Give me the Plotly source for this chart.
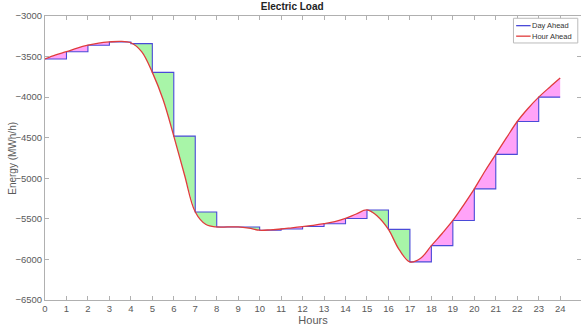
import plotly.graph_objects as go

# ---- data ----
hours = [0, 1, 2, 3, 4, 5, 6, 7, 8, 9, 10, 11, 12, 13, 14, 15, 16, 17, 18, 19, 20, 21, 22, 23, 24]
# Day-ahead hourly energy (value held over [h, h+1])
day_ahead = [-3530, -3440, -3360, -3320, -3340, -3695, -4480, -5415, -5600, -5600,
             -5640, -5625, -5595, -5560, -5495, -5390, -5630, -6030, -5830, -5520,
             -5130, -4705, -4300, -4000]
# Hour-ahead energy at half-hour resolution
ha_time = [0, 0.5, 1, 1.5, 2, 2.5, 3, 3.5, 4, 4.5, 5, 5.5, 6, 6.5, 7, 7.5, 8, 8.5,
           9, 9.5, 10, 10.5, 11, 11.5, 12, 12.5, 13, 13.5, 14, 14.5, 15, 15.5, 16,
           16.5, 17, 17.5, 18, 18.5, 19, 19.5, 20, 20.5, 21, 21.5, 22, 22.5, 23,
           23.5, 24]
hour_ahead = [-3530, -3480, -3440, -3395, -3360, -3335, -3320, -3312, -3330, -3440,
              -3695, -4030, -4480, -4960, -5415, -5570, -5600, -5600, -5600, -5615,
              -5640, -5635, -5625, -5610, -5595, -5580, -5560, -5535, -5495, -5440,
              -5390, -5470, -5630, -5880, -6030, -5985, -5830, -5680, -5520, -5330,
              -5130, -4910, -4705, -4500, -4300, -4140, -4000, -3880, -3765]
y_ticks = [-3000, -3500, -4000, -4500, -5000, -5500, -6000, -6500]

GREEN = "#a8f5a8"
MAGENTA = "#ffa3f8"
BLUE = "#4a4ad8"
RED = "#e03c3c"
AXIS = "#b0b0b0"
TEXT = "#5a5a5a"

fig = go.Figure()

# shaded differences, interval by interval
for h in range(24):
    seg_t = ha_time[2 * h:2 * h + 3]
    seg_v = hour_ahead[2 * h:2 * h + 3]
    fig.add_trace(go.Scatter(x=seg_t, y=seg_v, mode="lines",
                             line=dict(width=0, shape="spline"),
                             hoverinfo="skip", showlegend=False))
    color = GREEN if day_ahead[h] > seg_v[-1] else MAGENTA
    fig.add_trace(go.Scatter(x=[hours[h], hours[h + 1], hours[h + 1]],
                             y=[day_ahead[h], day_ahead[h], seg_v[-1]],
                             mode="lines", line=dict(width=0),
                             fill="tonexty", fillcolor=color,
                             hoverinfo="skip", showlegend=False))

# Day ahead step line
fig.add_trace(go.Scatter(x=hours, y=day_ahead + [day_ahead[-1]], mode="lines",
                         line=dict(color=BLUE, width=1.1, shape="hv"),
                         name="Day Ahead", showlegend=False))
# Hour ahead smooth line
fig.add_trace(go.Scatter(x=ha_time, y=hour_ahead, mode="lines",
                         line=dict(color=RED, width=1.3, shape="spline"),
                         name="Hour Ahead", showlegend=False))

# manual legend (MATLAB-style compact box)
fig.add_shape(type="rect", xref="paper", yref="paper", x0=0.874, x1=0.994,
              y0=0.905, y1=0.992, line=dict(color="#bbbbbb", width=1),
              fillcolor="white", layer="above")
fig.add_shape(type="line", xref="paper", yref="paper", x0=0.879, x1=0.906,
              y0=0.966, y1=0.966, line=dict(color=BLUE, width=1.3), layer="above")
fig.add_shape(type="line", xref="paper", yref="paper", x0=0.879, x1=0.906,
              y0=0.929, y1=0.929, line=dict(color=RED, width=1.3), layer="above")
fig.add_annotation(text="Day Ahead", xref="paper", yref="paper", x=0.905, y=0.966,
                   xanchor="left", yanchor="middle", showarrow=False,
                   font=dict(size=7.5, color="#333333"))
fig.add_annotation(text="Hour Ahead", xref="paper", yref="paper", x=0.905, y=0.929,
                   xanchor="left", yanchor="middle", showarrow=False,
                   font=dict(size=7.5, color="#333333"))
# y-axis title placed close to the tick labels, as in the reference
fig.add_annotation(text="Energy (MWh/h)", xref="paper", yref="paper", x=-0.062, y=0.5,
                   xanchor="center", yanchor="middle", textangle=-90, showarrow=False,
                   font=dict(size=10, color=TEXT))

axis_common = dict(showline=True, linecolor=AXIS, linewidth=1, mirror="ticks",
                   ticks="inside", ticklen=4, tickcolor=AXIS, showgrid=False,
                   zeroline=False, automargin=False,
                   tickfont=dict(size=9.5, color=TEXT))

fig.update_layout(
    width=581, height=331,
    margin=dict(l=45, r=0, t=16, b=31),
    paper_bgcolor="white", plot_bgcolor="white",
    font=dict(family="Liberation Sans, Arial, sans-serif", color=TEXT),
    title=dict(text="<b>Electric Load</b>", x=0.503, xref="container",
               y=0.979, yref="container", xanchor="center", yanchor="middle",
               font=dict(size=10, color="#222222")),
    xaxis=dict(range=[0, 24.97], tickvals=hours,
               title=dict(text="Hours", font=dict(size=11, color=TEXT), standoff=0),
               **axis_common),
    yaxis=dict(range=[-6500, -3000], tickvals=y_ticks, **axis_common),
)

fig.write_html("out.html", config={"displayModeBar": False},
               post_script="document.body.style.margin='0';document.body.style.overflow='hidden';")
